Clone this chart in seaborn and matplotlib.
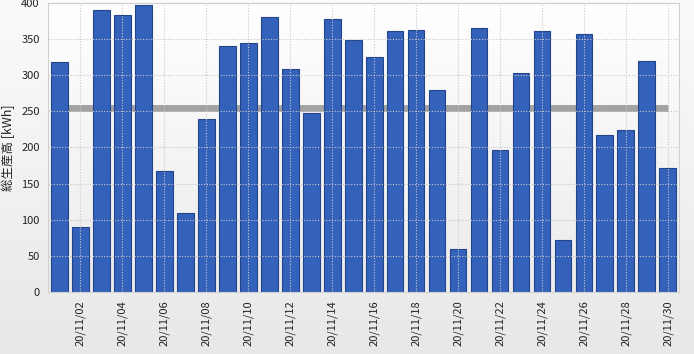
import numpy as np
import pandas as pd
import matplotlib
matplotlib.use("Agg")
import matplotlib.pyplot as plt
import seaborn as sns

days = [f"20/11/{d:02d}" for d in range(1, 31)]
production = [318, 90, 390, 383, 397, 168, 110, 240, 340, 345,
              380, 309, 247, 377, 349, 325, 361, 362, 279, 60,
              365, 197, 303, 361, 72, 357, 217, 224, 319, 171]
average = 255
y_ticks = [0, 50, 100, 150, 200, 250, 300, 350, 400]
y_label = "総生産高 [kWh]"

sns.set_theme(style="white")
plt.rcParams['font.family'] = ['Noto Sans CJK JP', 'DejaVu Sans']

fig = plt.figure(figsize=(6.94, 3.54), dpi=100)
# figure background gradient (white top -> light gray bottom)
bg = fig.add_axes([0, 0, 1, 1], zorder=-10)
bg.imshow(np.linspace(0, 1, 256).reshape(-1, 1), aspect='auto', origin='upper',
          cmap=matplotlib.colors.LinearSegmentedColormap.from_list('g', ['#fbfbfb', '#e8e8e8']),
          extent=[0, 1, 0, 1])
bg.set_axis_off()

ax = fig.add_axes([0.069, 0.175, 0.909, 0.817])
ax.set_facecolor('none')
# plot area gradient (white top -> light gray bottom)
ax.imshow(np.linspace(0, 1, 256).reshape(-1, 1), aspect='auto', origin='upper',
          cmap=matplotlib.colors.LinearSegmentedColormap.from_list('p', ['#ffffff', '#ebebeb']),
          extent=[-0.55, 29.52, 0, 400], zorder=0)

df = pd.DataFrame({"day": days, "production": production})
ax.plot([0, len(days) - 1], [average, average], color='#a3a3a3', lw=5, zorder=1,
        solid_capstyle='butt')
sns.barplot(data=df, x="day", y="production", color='#3461ba', saturation=1,
            edgecolor='#22448c', linewidth=0.8, width=0.8, ax=ax, zorder=2)

ax.set_xlim(-0.55, 29.52)
ax.set_ylim(0, 400)
ax.set_yticks(y_ticks)
ax.set_yticklabels([str(v) for v in y_ticks], fontsize=8, color='#222222')
pos = list(range(1, 30, 2))
ax.set_xticks(pos)
ax.set_xticklabels([days[i] for i in pos], rotation=90, fontsize=8, color='#222222')
ax.tick_params(axis='both', length=0, pad=6)
ax.grid(True, color='#c8c8c8', linestyle=(0, (1, 1.5)), linewidth=0.8)
ax.set_axisbelow(False)
for gl in ax.get_xgridlines() + ax.get_ygridlines():
    gl.set_zorder(0.5)
ax.set_xlabel("")
ax.set_ylabel(y_label, fontsize=9, color='#222222', labelpad=4)
for s in ax.spines.values():
    s.set_color('#d0d0d0')
    s.set_linewidth(0.8)

fig.savefig("out.png", dpi=100)
